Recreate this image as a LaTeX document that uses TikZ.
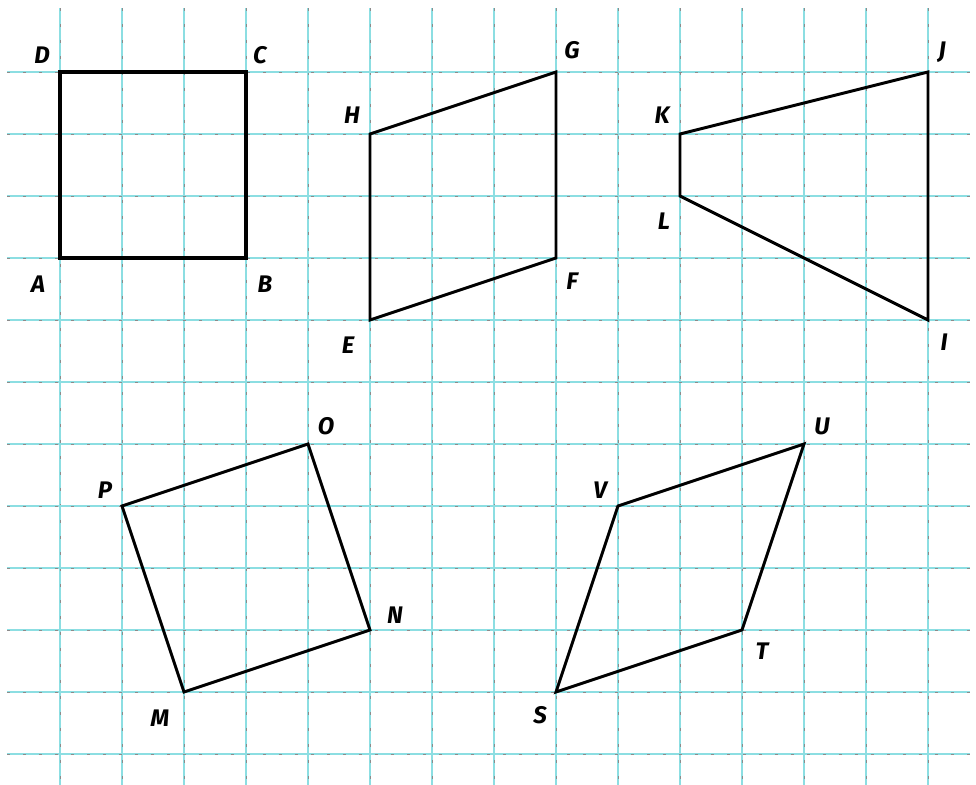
\documentclass[tikz,border=0pt]{standalone}
\usepackage{fontspec}
\setsansfont{Fira Sans}
\definecolor{gridcyan}{RGB}{140,222,226}
\tikzset{
  gridline/.style={gridcyan, line width=1.2pt},
  gridtick/.style={black!45, line width=0.45pt, dash pattern=on 2pt off 10pt},
  figline/.style={black, line width=2.2pt, line join=miter},
  lbl/.style={font=\sffamily\bfseries\itshape\fontsize{18}{18}\selectfont, inner sep=0pt}
}
\begin{document}
\begin{tikzpicture}[x=0.75pt,y=-0.75pt]
\fill[white] (0,0) rectangle (976,785);
\useasboundingbox (0,0) rectangle (976,785);
% grid
\foreach \gx in {60,122,...,928} {
  \draw[gridline] (\gx,8) -- (\gx,785);
  \draw[gridtick] (\gx,8) -- (\gx,785);
}
\foreach \gy in {72,134,...,754} {
  \draw[gridline] (7,\gy) -- (970,\gy);
  \draw[gridtick] (7,\gy) -- (970,\gy);
}
% vertices
\coordinate (A) at (60,258); \coordinate (B) at (246,258);
\coordinate (C) at (246,72); \coordinate (D) at (60,72);
\coordinate (E) at (370,320); \coordinate (F) at (556,258);
\coordinate (G) at (556,72); \coordinate (H) at (370,134);
\coordinate (I) at (928,320); \coordinate (J) at (928,72);
\coordinate (K) at (680,134); \coordinate (L) at (680,196);
\coordinate (M) at (184,692); \coordinate (N) at (370,630);
\coordinate (O) at (308,444); \coordinate (P) at (122,506);
\coordinate (S) at (556,692); \coordinate (T) at (742,630);
\coordinate (U) at (804,444); \coordinate (V) at (618,506);
% shapes
\draw[figline, line width=2.6pt] (A) -- (B) -- (C) -- (D) -- cycle;
\draw[figline] (E) -- (F) -- (G) -- (H) -- cycle;
\draw[figline] (I) -- (J) -- (K) -- (L) -- cycle;
\draw[figline] (M) -- (N) -- (O) -- (P) -- cycle;
\draw[figline] (S) -- (T) -- (U) -- (V) -- cycle;
% labels
\node[lbl] (lD) at (42,55) {D};
\node[lbl] (lC) at (260,55) {C};
\node[lbl] (lA) at (38,284) {A};
\node[lbl] (lB) at (265,284) {B};
\node[lbl] (lH) at (352,115) {H};
\node[lbl] (lG) at (572,50) {G};
\node[lbl] (lF) at (572,281) {F};
\node[lbl] (lE) at (348,345) {E};
\node[lbl] (lK) at (662,115) {K};
\node[lbl] (lJ) at (942,52) {J};
\node[lbl] (lL) at (664,221) {L};
\node[lbl] (lI) at (944,342) {I};
\node[lbl] (lO) at (326,426) {O};
\node[lbl] (lP) at (105,490) {P};
\node[lbl] (lN) at (395,615) {N};
\node[lbl] (lM) at (160,718) {M};
\node[lbl] (lU) at (822,426) {U};
\node[lbl] (lV) at (600,490) {V};
\node[lbl] (lT) at (762,651) {T};
\node[lbl] (lS) at (540,715) {S};
\end{tikzpicture}
\end{document}
